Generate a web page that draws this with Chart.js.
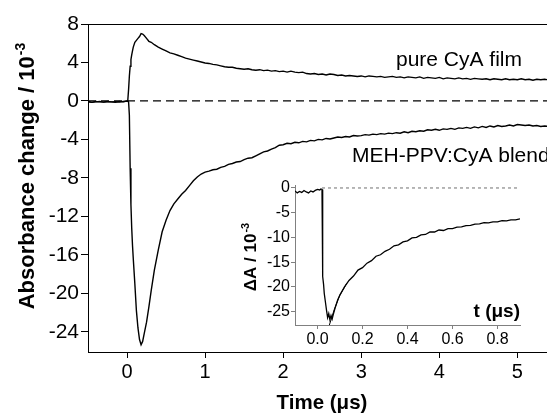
<!DOCTYPE html>
<html><head><meta charset="utf-8">
<script src="https://cdn.jsdelivr.net/npm/chart.js@4"></script>
<style>
html,body{margin:0;padding:0;background:#fff;}
#wrap{position:relative;width:547px;height:419px;overflow:hidden;background:#fff;}
#main{position:absolute;left:0;top:0;}
#inset{position:absolute;left:225px;top:170px;}
</style></head><body>
<div id="wrap"><canvas id="main" width="547" height="419"></canvas><canvas id="inset" width="322" height="180"></canvas></div>
<script>
// ---------- main panel data ----------
const mainXTicks = [0, 1, 2, 3, 4, 5];
const mainYTicks = [8, 4, 0, -4, -8, -12, -16, -20, -24];
const mainTime = [
 -0.5,-0.45,-0.4,-0.35,-0.3,-0.25,-0.2,-0.15,-0.1,-0.05,0,
 0.01,0.02,0.03,0.04,0.05,0.06,0.07,0.08,0.1,0.12,0.14,0.16,0.18,0.2,0.22,0.25,0.28,0.31,0.35,0.4,0.45,
 0.5,0.55,0.6,0.65,0.7,0.75,0.8,0.85,0.9,0.95,
 1.0,1.05,1.1,1.15,1.2,1.25,1.3,1.35,1.4,1.45,1.5,1.55,1.6,1.65,1.7,1.75,1.8,1.85,1.9,1.95,
 2.0,2.05,2.1,2.15,2.2,2.25,2.3,2.35,2.4,2.45,2.5,2.55,2.6,2.65,2.7,2.75,2.8,2.85,2.9,2.95,
 3.0,3.05,3.1,3.15,3.2,3.25,3.3,3.35,3.4,3.45,3.5,3.55,3.6,3.65,3.7,3.75,3.8,3.85,3.9,3.95,
 4.0,4.05,4.1,4.15,4.2,4.25,4.3,4.35,4.4,4.45,4.5,4.55,4.6,4.65,4.7,4.75,4.8,4.85,4.9,4.95,
 5.0,5.05,5.1,5.15,5.2,5.25,5.3,5.35,5.4
];
const cyaFilm = [
 -0.1,-0.15,-0.05,-0.1,-0.12,-0.05,-0.1,-0.08,-0.12,-0.05,0.0,
 0.1,1.2,2.6,3.6,4.3,4.8,5.2,5.6,6.1,6.3,6.5,6.7,7.0,6.95,6.8,6.5,6.2,6.1,5.85,5.6,5.4,
 5.2,5.0,4.9,4.75,4.6,4.45,4.35,4.25,4.15,4.05,
 3.95,3.9,3.8,3.75,3.65,3.55,3.5,3.5,3.4,3.35,3.3,3.35,3.25,3.2,3.25,3.15,3.2,3.1,3.15,3.05,
 3.1,3.0,3.1,3.0,2.95,3.0,2.85,2.8,2.85,2.75,2.8,2.7,2.8,2.75,2.65,2.7,2.6,2.65,2.6,2.55,
 2.6,2.5,2.6,2.55,2.5,2.55,2.45,2.5,2.55,2.45,2.5,2.4,2.5,2.45,2.4,2.5,2.35,2.45,2.4,2.35,
 2.45,2.3,2.4,2.35,2.3,2.4,2.3,2.35,2.25,2.35,2.3,2.25,2.3,2.2,2.3,2.25,2.2,2.3,2.2,2.25,
 2.2,2.3,2.2,2.25,2.15,2.25,2.2,2.25,2.2
];
const blend = [
 -0.05,-0.15,-0.1,-0.05,-0.12,-0.08,-0.1,-0.15,-0.05,-0.1,0.0,
 -0.05,-0.1,-1.5,-7.0,-10.8,-13.2,-15.0,-16.4,-19.0,-21.8,-23.6,-24.8,-25.35,-25.0,-24.2,-23.0,-21.4,-19.7,-17.6,-15.5,-13.6,
 -12.4,-11.4,-10.7,-10.2,-9.7,-9.3,-8.8,-8.3,-7.9,-7.6,
 -7.4,-7.3,-7.15,-7.1,-6.9,-6.8,-6.6,-6.5,-6.35,-6.3,-6.1,-5.95,-5.9,-5.7,-5.5,-5.3,-5.2,-5.0,-4.85,-4.6,
 -4.55,-4.4,-4.45,-4.3,-4.35,-4.2,-4.25,-4.1,-4.15,-4.0,-4.05,-3.9,-3.95,-3.85,-3.75,-3.8,-3.7,-3.75,-3.6,-3.65,
 -3.6,-3.5,-3.55,-3.45,-3.5,-3.4,-3.45,-3.35,-3.4,-3.3,-3.35,-3.2,-3.3,-3.15,-3.2,-3.1,-3.15,-3.0,-3.05,-2.95,
 -3.05,-2.9,-2.95,-2.85,-2.95,-2.8,-2.85,-2.75,-2.85,-2.7,-2.8,-2.65,-2.75,-2.6,-2.7,-2.55,-2.65,-2.6,-2.5,-2.6,
 -2.45,-2.5,-2.55,-2.5,-2.6,-2.55,-2.65,-2.6,-2.65
];
const mainXRange = [-0.5, 5.38];
const mainYRange = [-26.1, 8];

// ---------- inset data ----------
const insetXTicks = [0, 0.2, 0.4, 0.6, 0.8];
const insetYTicks = [0, -5, -10, -15, -20, -25];
const insetTime = [
 -0.1,-0.09,-0.08,-0.07,-0.06,-0.05,-0.04,-0.03,-0.02,-0.01,0.0,
 0.01,0.015,0.02,0.022,0.024,0.027,0.03,0.035,0.04,0.045,0.05,0.055,0.06,0.065,0.07,0.08,0.09,0.1,
 0.12,0.14,0.16,0.18,0.2,0.22,0.24,0.26,0.28,0.3,0.32,0.34,0.36,0.38,0.4,0.42,0.44,0.46,0.48,0.5,
 0.52,0.54,0.56,0.58,0.6,0.62,0.64,0.66,0.68,0.7,0.72,0.74,0.76,0.78,0.8,0.82,0.84,0.86,0.88,0.9
];
const insetValues = [
 -0.6,-1.0,-0.7,-0.9,-0.5,-0.8,-1.0,-0.6,-0.8,-0.5,-0.3,
 -0.4,-0.2,-0.3,-10.0,-17.9,-19.5,-21.3,-23.0,-24.7,-26.2,-25.4,-26.6,-25.8,-26.5,-25.6,-24.0,-22.6,-21.6,
 -20.0,-18.7,-17.8,-16.6,-16.1,-15.2,-14.7,-13.8,-13.5,-12.8,-12.4,-11.7,-11.5,-10.9,-10.7,-10.1,-10.0,-9.5,-9.4,-8.9,
 -8.9,-8.5,-8.6,-8.2,-8.2,-7.9,-7.85,-7.6,-7.55,-7.3,-7.25,-7.0,-7.05,-6.85,-6.85,-6.6,-6.65,-6.45,-6.45,-6.25
];
const fitTime = [0.05, 0.075, 0.1, 0.13];
const fitValues = [-28.1, -24.5, -21.6, -19.3];
const insetXRange = [-0.1, 0.9];
const insetYRange = [-27.7, 0.6];

const FONT = "'Liberation Sans', Arial, Helvetica, sans-serif";
const pts = (xs, ys) => xs.map((x, i) => ({x: x, y: ys[i]}));

function rotTitle(ctx, main, sup, cx, cy, size, supSize) {
  ctx.save();
  ctx.translate(cx, cy);
  ctx.rotate(-Math.PI / 2);
  ctx.font = `bold ${size}px ${FONT}`;
  const w1 = ctx.measureText(main).width;
  ctx.font = `bold ${supSize}px ${FONT}`;
  const w2 = ctx.measureText(sup).width;
  const x0 = -(w1 + w2 + 1) / 2;
  ctx.fillStyle = '#000';
  ctx.textAlign = 'left';
  ctx.textBaseline = 'alphabetic';
  ctx.font = `bold ${size}px ${FONT}`;
  ctx.fillText(main, x0, size * 0.36);
  ctx.font = `bold ${supSize}px ${FONT}`;
  ctx.fillText(sup, x0 + w1 + 1, size * 0.36 - size * 0.42);
  ctx.restore();
}

const mainDecor = {
  id: 'mainDecor',
  afterDraw(chart) {
    const {ctx, chartArea: a} = chart;
    ctx.save();
    ctx.strokeStyle = '#000';
    ctx.lineWidth = 1;
    ctx.beginPath();
    ctx.moveTo(a.left, a.top + 0.5);
    ctx.lineTo(a.right, a.top + 0.5);
    ctx.stroke();
    ctx.fillStyle = '#000';
    ctx.font = `21px ${FONT}`;
    ctx.textAlign = 'left';
    ctx.textBaseline = 'middle';
    ctx.fillText('pure CyA film', 396, 60);
    ctx.fillText('MEH-PPV:CyA blend', 352, 156);
    ctx.font = `bold 20.5px ${FONT}`;
    ctx.textAlign = 'center';
    ctx.fillText('Time (\u03bcs)', 322, 403);
    ctx.restore();
    rotTitle(ctx, 'Absorbance change / 10', '-3', 26, 176, 22, 14);
  }
};

const insetDecor = {
  id: 'insetDecor',
  afterDraw(chart) {
    const {ctx, chartArea: a} = chart;
    ctx.save();
    ctx.fillStyle = '#000';
    ctx.font = `bold 19px ${FONT}`;
    ctx.textAlign = 'right';
    ctx.textBaseline = 'alphabetic';
    ctx.fillText('t (\u03bcs)', a.right, 147);
    ctx.restore();
    rotTitle(ctx, '\u0394A / 10', '-3', 25, 87, 17, 11);
  }
};

new Chart(document.getElementById('main'), {
  type: 'line',
  data: {
    datasets: [
      {data: pts([mainXRange[0], mainXRange[1]], [0, 0]), borderColor: '#000', borderWidth: 1.2, borderDash: [8, 5], pointRadius: 0},
      {data: pts(mainTime, cyaFilm), borderColor: '#000', borderWidth: 1.4, pointRadius: 0},
      {data: pts(mainTime, blend), borderColor: '#000', borderWidth: 1.4, pointRadius: 0}
    ]
  },
  options: {
    responsive: false,
    animation: false,
    layout: {padding: {top: 24, right: 0, left: 0, bottom: 0}},
    plugins: {legend: {display: false}, tooltip: {enabled: false}},
    scales: {
      x: {
        type: 'linear', min: mainXRange[0], max: mainXRange[1],
        afterFit: s => { s.height = 67; },
        afterBuildTicks: s => { s.ticks = mainXTicks.map(v => ({value: v})); },
        grid: {drawOnChartArea: false, drawTicks: true, tickLength: 6, color: '#000', lineWidth: 1},
        border: {display: true, color: '#000', width: 1},
        ticks: {color: '#000', font: {family: FONT, size: 20}, padding: 2, maxRotation: 0, autoSkip: false, callback: v => String(v)}
      },
      y: {
        type: 'linear', min: mainYRange[0], max: mainYRange[1],
        afterFit: s => { s.width = 88; },
        afterBuildTicks: s => { s.ticks = mainYTicks.map(v => ({value: v})); },
        grid: {drawOnChartArea: false, drawTicks: true, tickLength: 7, color: '#000', lineWidth: 1},
        border: {display: true, color: '#000', width: 1},
        ticks: {color: '#000', font: {family: FONT, size: 21}, padding: 2, autoSkip: false, callback: v => String(v)}
      }
    }
  },
  plugins: [mainDecor]
});

const insetTickFont = {family: FONT, size: 16};
new Chart(document.getElementById('inset'), {
  type: 'line',
  data: {
    datasets: [
      {data: pts([0.02, insetXRange[1]], [0, 0]), borderColor: '#888', borderWidth: 1.2, borderDash: [3, 3], pointRadius: 0},
      {data: pts(fitTime, fitValues), borderColor: '#000', borderWidth: 1, pointRadius: 0},
      {data: pts(insetTime, insetValues), borderColor: '#000', borderWidth: 1.3, pointRadius: 0}
    ]
  },
  options: {
    responsive: false,
    animation: false,
    layout: {padding: {top: 15, right: 27, left: 0, bottom: 0}},
    plugins: {legend: {display: false}, tooltip: {enabled: false}},
    scales: {
      x: {
        type: 'linear', min: insetXRange[0], max: insetXRange[1],
        afterFit: s => { s.height = 25; },
        afterBuildTicks: s => { s.ticks = insetXTicks.map(v => ({value: v})); },
        grid: {drawOnChartArea: false, drawTicks: true, tickLength: 4, color: '#808080', lineWidth: 1},
        border: {display: true, color: '#808080', width: 1},
        ticks: {color: '#000', font: insetTickFont, padding: 1, maxRotation: 0, autoSkip: false, callback: v => v.toFixed(1)}
      },
      y: {
        type: 'linear', min: insetYRange[0], max: insetYRange[1],
        afterFit: s => { s.width = 70; },
        afterBuildTicks: s => { s.ticks = insetYTicks.map(v => ({value: v})); },
        grid: {drawOnChartArea: false, drawTicks: true, tickLength: 4, color: '#808080', lineWidth: 1},
        border: {display: true, color: '#808080', width: 1},
        ticks: {color: '#000', font: insetTickFont, padding: 1, autoSkip: false, callback: v => String(v)}
      }
    }
  },
  plugins: [insetDecor]
});
</script>
</body></html>
